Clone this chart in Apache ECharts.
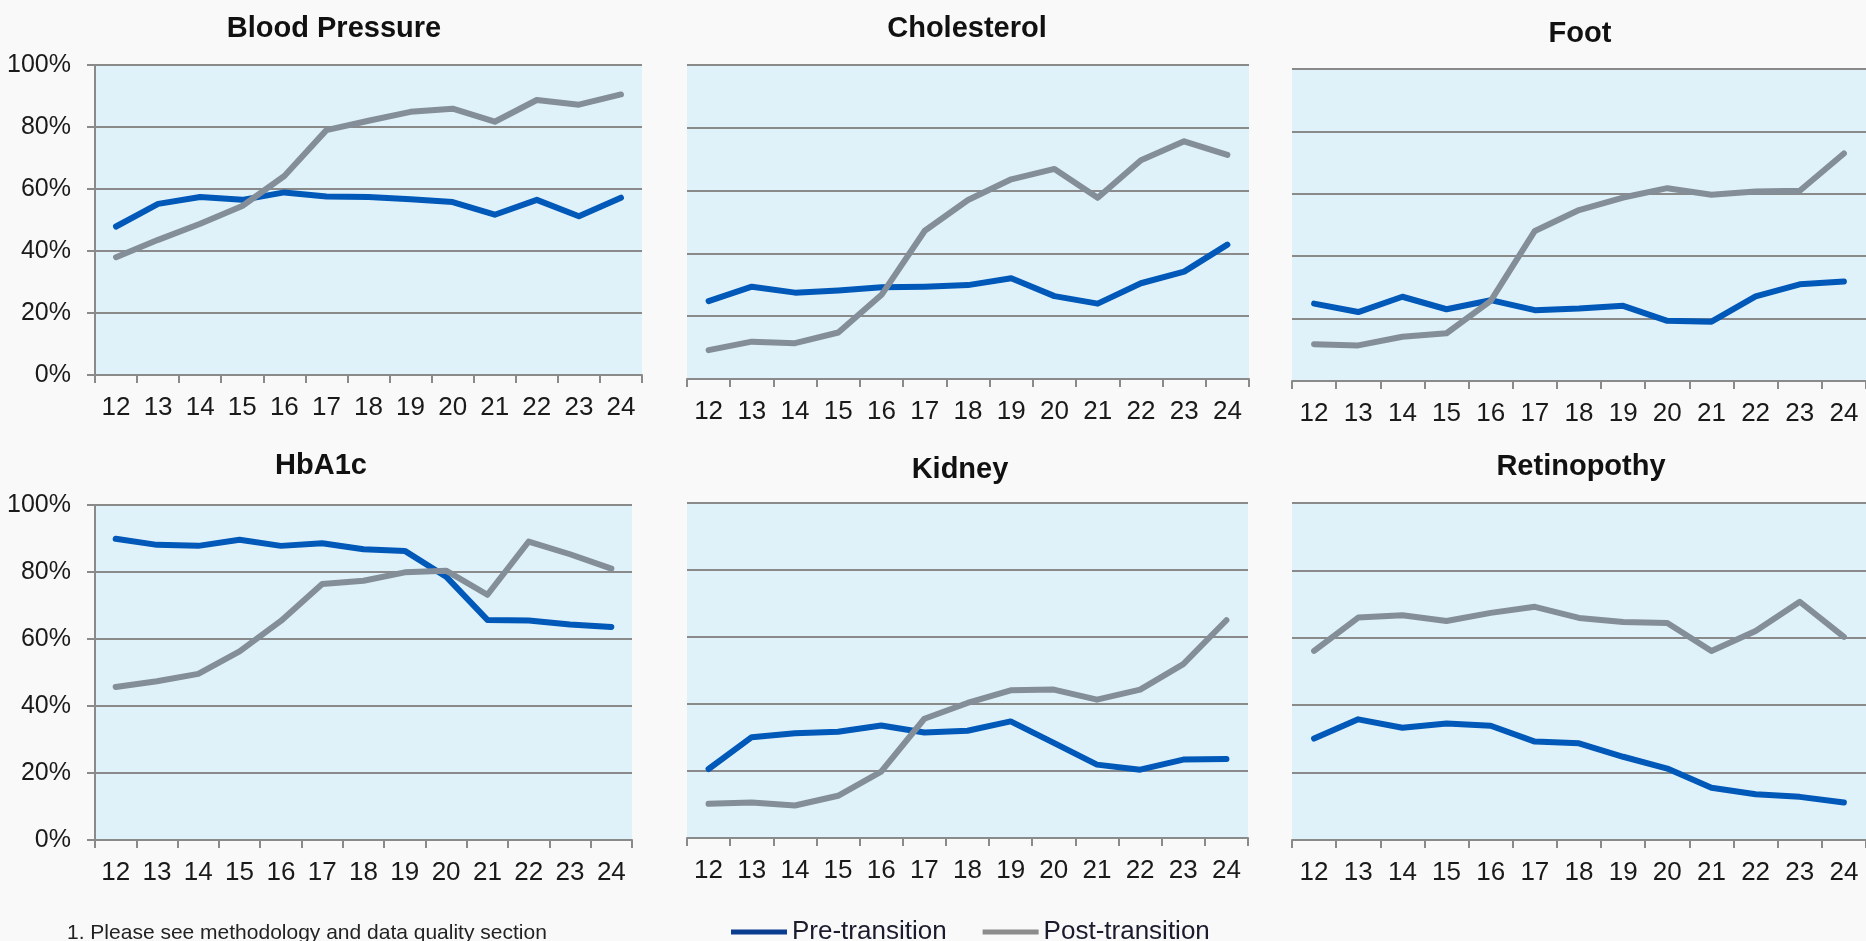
<!DOCTYPE html>
<html><head><meta charset="utf-8">
<script src="https://cdn.jsdelivr.net/npm/echarts@6/dist/echarts.min.js"></script>
<style>html,body{margin:0;padding:0;background:#f9f9f9;}#c{width:1866px;height:941px;}</style>
</head><body><div id="c"></div>
<script>
const years = ['12','13','14','15','16','17','18','19','20','21','22','23','24'];
const panelTitles = ['Blood Pressure','Cholesterol','Foot','HbA1c','Kidney','Retinopothy'];
const seriesNames = ['Pre-transition','Post-transition'];
const footnote = '1. Please see methodology and data quality section';

const bloodPressurePre  = [47.9,55.2,57.4,56.5,58.9,57.6,57.4,56.7,55.8,51.7,56.5,51.2,57.2];
const bloodPressurePost = [38.0,43.6,48.8,54.5,64.2,79.0,82.0,84.9,85.9,81.7,88.7,87.2,90.5];
const cholesterolPre    = [24.8,29.4,27.5,28.2,29.2,29.4,29.9,32.1,26.4,24.0,30.5,34.2,42.8];
const cholesterolPost   = [9.2,11.9,11.4,14.8,26.8,47.2,57.0,63.6,66.9,57.7,69.7,75.7,71.4];
const footPre           = [24.8,22.1,27.0,23.0,25.9,22.7,23.2,24.1,19.3,19.0,27.1,31.0,31.9];
const footPost          = [11.8,11.4,14.2,15.3,25.7,48.1,54.8,58.8,61.8,59.7,60.7,61.0,72.9];
const hba1cPre          = [89.9,88.1,87.8,89.6,87.8,88.6,86.8,86.3,78.6,65.7,65.5,64.3,63.6];
const hba1cPost         = [45.7,47.4,49.6,56.3,65.4,76.4,77.4,79.9,80.4,73.2,89.1,85.3,81.0];
const kidneyPre         = [20.6,30.1,31.3,31.7,33.6,31.5,32.0,34.8,28.4,21.9,20.4,23.4,23.6];
const kidneyPost        = [10.2,10.6,9.7,12.6,19.8,35.6,40.3,44.1,44.3,41.3,44.3,51.9,65.0];
const retinopathyPre    = [30.1,35.8,33.3,34.6,33.9,29.2,28.7,24.7,21.2,15.5,13.6,12.8,11.1];
const retinopathyPost   = [56.1,66.0,66.7,65.0,67.4,69.2,65.9,64.7,64.4,56.1,62.0,70.7,60.3];

const panelData = [
  [bloodPressurePre, bloodPressurePost],
  [cholesterolPre, cholesterolPost],
  [footPre, footPost],
  [hba1cPre, hba1cPost],
  [kidneyPre, kidneyPost],
  [retinopathyPre, retinopathyPost]
];

const FONT = '"Liberation Sans", Arial, sans-serif';
const GRID_COLOR = '#8a8a8a';
const BLUE = '#0058b8';
const GRAY = '#838e98';

const gridBoxes = [
  {left:95,  top:65,  width:547, height:310},
  {left:687, top:65,  width:562, height:314},
  {left:1292,top:69,  width:576, height:312},
  {left:95,  top:505, width:537, height:335},
  {left:687, top:503, width:561, height:335},
  {left:1292,top:503, width:576, height:337}
];
const titlePos = [[334,29],[967,29],[1580,34],[321,466],[960,470],[1581,467]];
const showY = [true,false,false,true,false,false];

const grid = [], xAxis = [], yAxis = [], series = [], graphic = [];
gridBoxes.forEach((g, i) => {
  grid.push(Object.assign({show:true, backgroundColor:'#dff1f9', borderWidth:0, containLabel:false}, g));
  xAxis.push({
    type:'category', gridIndex:i, data:years, boundaryGap:true,
    axisLine:{show:true, lineStyle:{color:GRID_COLOR, width:2}},
    axisTick:{show:true, length:8, interval:0, lineStyle:{color:GRID_COLOR, width:2}},
    axisLabel:{show:true, interval:0, margin:20, fontSize:26, color:'#1a1a1a', fontFamily:FONT}
  });
  yAxis.push({
    type:'value', gridIndex:i, min:0, max:100, interval:20,
    axisLine:{show:showY[i], lineStyle:{color:GRID_COLOR, width:2}},
    axisTick:{show:showY[i], length:8, lineStyle:{color:GRID_COLOR, width:2}},
    axisLabel:{show:showY[i], margin:24, fontSize:25, color:'#1a1a1a', fontFamily:FONT, formatter:'{value}%'},
    splitLine:{show:true, lineStyle:{color:GRID_COLOR, width:2}}
  });
  const [pre, post] = panelData[i];
  series.push({name:seriesNames[0], type:'line', xAxisIndex:i, yAxisIndex:i, data:pre, symbol:'none',
    lineStyle:{color:BLUE, width:6, cap:'round', join:'round'}, itemStyle:{color:BLUE}, z:2});
  series.push({name:seriesNames[1], type:'line', xAxisIndex:i, yAxisIndex:i, data:post, symbol:'none',
    lineStyle:{color:GRAY, width:6, cap:'round', join:'round'}, itemStyle:{color:GRAY}, z:3});
  graphic.push({type:'text', x:titlePos[i][0], y:titlePos[i][1], style:{
    text:panelTitles[i], font:'bold 29px ' + FONT, fill:'#111', textAlign:'center', textVerticalAlign:'middle'}});
});
graphic.push({type:'text', x:67, y:933, style:{text:footnote, font:'21px ' + FONT, fill:'#222', textAlign:'left', textVerticalAlign:'middle'}});

const chart = echarts.init(document.getElementById('c'), null, {renderer:'canvas'});
chart.setOption({
  backgroundColor:'#f9f9f9',
  animation:false,
  grid, xAxis, yAxis, series, graphic,
  legend:{
    left:726, top:914, icon:'rect', itemWidth:56, itemHeight:5, itemGap:36,
    textStyle:{fontSize:26, color:'#1b1b2e', fontFamily:FONT},
    data:[
      {name:seriesNames[0], itemStyle:{color:'#0a3d8f'}},
      {name:seriesNames[1], itemStyle:{color:'#8c8c8c'}}
    ]
  }
});
</script></body></html>
